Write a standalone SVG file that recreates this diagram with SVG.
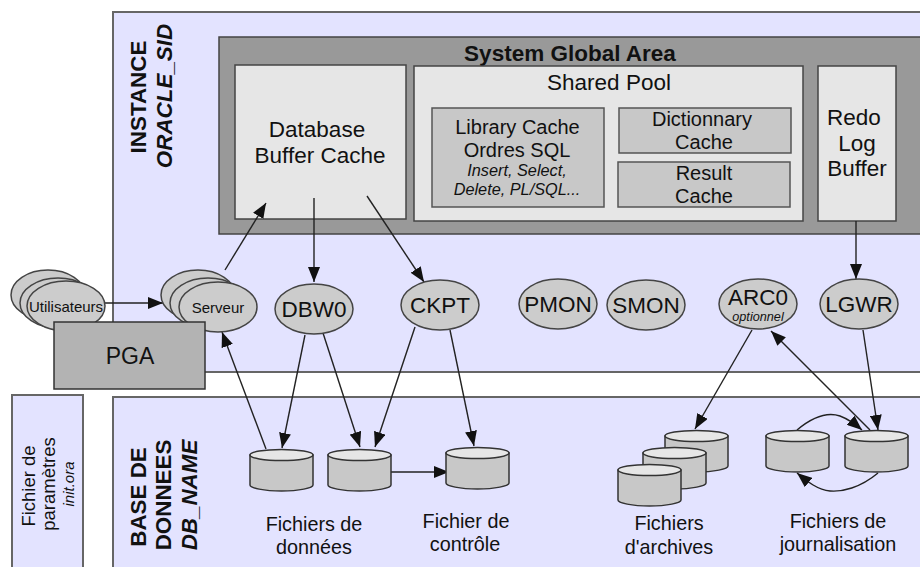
<svg xmlns="http://www.w3.org/2000/svg" width="920" height="567" viewBox="0 0 920 567">
<style>
text{font-family:"Liberation Sans",Arial,sans-serif;fill:#111;text-anchor:middle}
.panel{fill:#e3e3ff;stroke:#666;stroke-width:2}
.light{fill:#e6e6e6;stroke:#444;stroke-width:1.5}
.mid{fill:#c8c8c8;stroke:#555;stroke-width:1.5}
.el{fill:#ccc;stroke:#444;stroke-width:1.5}
.cyl{fill:#c8c8c8;stroke:#333;stroke-width:1.5}
.top{fill:#e6e6e6;stroke:#333;stroke-width:1.5}
.conn{fill:none;stroke:#222;stroke-width:1.4;marker-end:url(#arr)}
.big{font-size:22.5px}.t20{font-size:20px}.t18{font-size:19.8px}.bold{font-weight:bold}.it{font-style:italic}
.side{font-size:22.4px;font-weight:bold}.sm{font-size:16.300px;font-style:italic}
</style>
<defs>
<marker id="arr" markerUnits="userSpaceOnUse" markerWidth="16" markerHeight="12" refX="15" refY="6" orient="auto"><path d="M0,0L15,6L0,12Z" fill="#111"/></marker>
<g id="c"><path class="cyl" d="M0,6V36C0,39 14,42 31.500,42S63,39 63,36V6Z"/><ellipse class="top" cx="31.500" cy="6" rx="31.500" ry="5.500"/></g>
</defs>
<rect width="920" height="567" fill="#fff"/>
<g id="instance"><rect class="panel" x="113" y="12" width="820" height="360"/>
<text class="side" transform="translate(146,97) rotate(-90)">INSTANCE</text>
<text class="side it" transform="translate(172,96) rotate(-90)">ORACLE_SID</text></g>
<g id="database"><rect class="panel" x="113" y="397" width="820" height="190"/>
<text class="side" transform="translate(146,497) rotate(-90)">BASE DE</text>
<text class="side" transform="translate(171,495) rotate(-90)">DONNEES</text>
<text class="side it" transform="translate(197,495) rotate(-90)">DB_NAME</text></g>
<g id="param"><rect class="panel" x="12" y="395" width="71" height="190"/>
<text font-size="18.500" transform="translate(35,486) rotate(-90)">Fichier de</text>
<text font-size="18.500" transform="translate(55,484) rotate(-90)">paramètres</text>
<text class="it" font-size="15" transform="translate(74,484) rotate(-90)">init.ora</text></g>
<g id="sga"><rect x="219" y="37" width="720" height="197" fill="#999" stroke="#444" stroke-width="1.500"/>
<text class="bold big" x="570" y="61">System Global Area</text></g>
<g id="buffer"><rect class="light" x="235" y="65" width="171" height="154"/>
<text class="big" x="317" y="137">Database</text><text class="big" x="320" y="163">Buffer Cache</text></g>
<g id="shared"><rect class="light" x="414" y="66" width="389" height="155"/>
<text class="big" x="609" y="90">Shared Pool</text></g>
<g id="library"><rect class="mid" x="432" y="108" width="172" height="99"/>
<text class="t20" x="517.500" y="134">Library Cache</text><text class="t20" x="517" y="157">Ordres SQL</text>
<text class="sm" x="517" y="176">Insert, Select,</text><text class="sm" x="517" y="195">Delete, PL/SQL...</text></g>
<g id="dict"><rect class="mid" x="619" y="108" width="172" height="45"/>
<text class="t20" x="702" y="126">Dictionnary</text><text class="t20" x="704" y="149">Cache</text></g>
<g id="result"><rect class="mid" x="618" y="162" width="172" height="45"/>
<text class="t20" x="704" y="180">Result</text><text class="t20" x="704" y="203">Cache</text></g>
<g id="redo"><rect class="light" x="818" y="66" width="78" height="155"/>
<text class="big" x="854" y="125">Redo</text><text class="big" x="857" y="151">Log</text><text class="big" x="857" y="176">Buffer</text></g>
<g id="connectors">
<path class="conn" d="M105,303H163"/>
<path class="conn" d="M225,270L266,203"/>
<path class="conn" d="M314,198V282"/>
<path class="conn" d="M367,196L424,282"/>
<path class="conn" d="M856,221V279"/>
<path class="conn" d="M305,335L282,448"/>
<path class="conn" d="M323,333L360,447"/>
<path class="conn" d="M415,327L375,447"/>
<path class="conn" d="M450,330L474,446"/>
<path class="conn" d="M266,449L222,332"/>
<path class="conn" d="M391,472H449"/>
<path class="conn" d="M752,330L695,429"/>
<path class="conn" d="M870,430L771,331"/>
<path class="conn" d="M863,330L878,430"/>
<path class="conn" d="M797,430C815,415 828,412 840,416C848,419 855,424 862,430"/>
<path class="conn" d="M878,473C860,488 842,492 830,491C818,490 808,482 797,473"/>
</g>
<g id="utilisateurs"><ellipse class="el" cx="48" cy="295" rx="37" ry="25"/><ellipse class="el" cx="58" cy="303" rx="38" ry="25"/><ellipse class="el" cx="66" cy="306" rx="39" ry="25"/>
<text font-size="15" x="66" y="312">Utilisateurs</text></g>
<g id="serveur"><ellipse class="el" cx="198" cy="295" rx="37" ry="25"/><ellipse class="el" cx="208" cy="303" rx="38" ry="25"/><ellipse class="el" cx="218" cy="307" rx="39" ry="25"/>
<text font-size="15" x="218" y="313">Serveur</text></g>
<g id="pga"><rect x="54" y="322" width="151" height="67" fill="#b3b3b3" stroke="#333" stroke-width="1.500"/><text font-size="23" x="130" y="364">PGA</text></g>
<g id="dbw0"><ellipse class="el" cx="314" cy="309" rx="39" ry="25"/><text class="big" x="314" y="317">DBW0</text></g>
<g id="ckpt"><ellipse class="el" cx="440" cy="305" rx="39" ry="25"/><text class="big" x="440" y="313">CKPT</text></g>
<g id="pmon"><ellipse class="el" cx="558" cy="304" rx="39" ry="25"/><text class="big" x="558" y="312">PMON</text></g>
<g id="smon"><ellipse class="el" cx="646" cy="305" rx="39" ry="25"/><text class="big" x="646" y="313">SMON</text></g>
<g id="arc0"><ellipse class="el" cx="758" cy="304" rx="39" ry="25"/><text class="big" x="758" y="305">ARC0</text><text class="it" font-size="12.700" x="758" y="321">optionnel</text></g>
<g id="lgwr"><ellipse class="el" cx="859" cy="304" rx="39" ry="25"/><text class="big" x="859" y="312">LGWR</text></g>
<g id="data1"><use href="#c" x="250" y="449"/></g>
<g id="data2"><use href="#c" x="328" y="449"/></g>
<text class="t18" x="314" y="531">Fichiers de</text><text class="t18" x="314" y="554">données</text>
<g id="control"><use href="#c" x="446" y="447"/><text class="t18" x="466" y="528">Fichier de</text><text class="t18" x="465" y="551">contrôle</text></g>
<g id="archives"><use href="#c" x="665" y="430"/><use href="#c" x="643" y="447"/><use href="#c" x="618" y="464"/><text class="t18" x="669" y="530">Fichiers</text><text class="t18" x="669" y="554">d'archives</text></g>
<g id="journal"><use href="#c" x="766" y="430"/><use href="#c" x="845" y="430"/><text class="t18" x="838" y="528">Fichiers de</text><text class="t18" x="838" y="551">journalisation</text></g>
</svg>
